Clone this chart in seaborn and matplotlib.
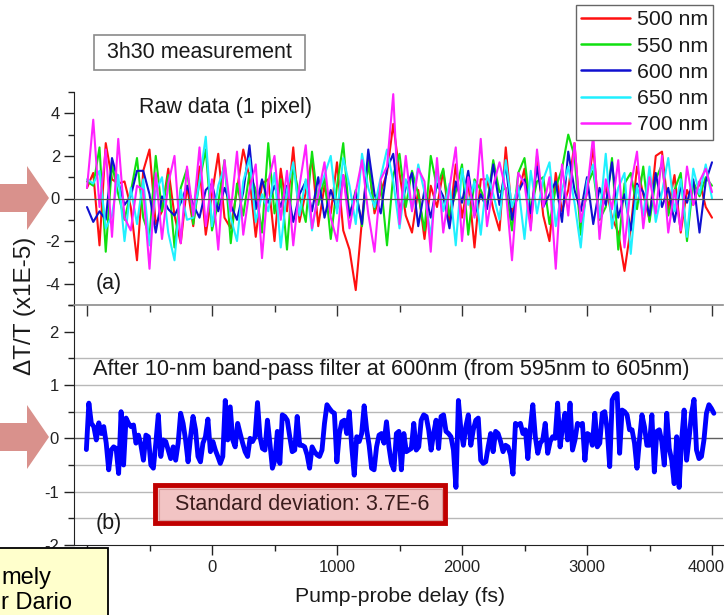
import numpy as np
import pandas as pd
import seaborn as sns
import matplotlib
matplotlib.use("Agg")
import matplotlib.pyplot as plt
from matplotlib.patches import Polygon, Rectangle
from matplotlib.ticker import MultipleLocator
from matplotlib.lines import Line2D
from matplotlib.transforms import ScaledTranslation

# ---------------- data (values in units of 1E-5) ----------------
wavelengths = ["500 nm", "550 nm", "600 nm", "650 nm", "700 nm"]
line_colors = ["#ff1010", "#10e010", "#1010d0", "#20f0ff", "#ff20ff"]

delay_top = np.arange(-1000, 4001, 50)

raw_500 = [0.5, 1.2, -2.2, 2.6, 0.9, 0.7, 0.8, -0.4, -2.9, 1.3,
           2.3, -1.2, -0.6, 1.4, -0.8, -2.1, 0.6, -1.3, 1.5, -1.7,
           0.2, 2.1, -0.9, -1.4, 0.4, 2.3, 1.0, -1.8, 0.7, 0.9,
           -2.0, 1.4, -0.6, 2.4, -1.1, 0.3, 1.9, -1.3, 0.6, -0.7,
           1.7, -1.5, -2.4, -4.3, -1.0, 1.8, -0.7, 0.3, 1.2, 3.5,
           1.2, -0.8, -1.6, 0.4, -1.9, 0.6, -0.4, 1.3, -1.1, 1.6,
           -0.9, 0.8, -2.3, 0.9, 0.9, -0.5, -1.5, 2.4, -0.7, 0.2,
           1.4, -1.3, 2.0, -0.8, -2.0, 1.2, -0.6, 0.4, 2.6, -1.2,
           0.3, 2.4, -1.0, 0.6, -0.9, -1.6, -3.4, -1.4, 1.5, 0.2,
           -1.0, 2.0, 2.2, -0.5, 1.1, -1.6, 0.4, -0.3, 0.8, -0.4,
           -0.9]
raw_550 = [0.8, 0.6, 2.4, -2.5, 1.6, 0.2, -1.0, 0.3, 1.9, -0.9,
           -1.8, 2.0, -0.6, 1.1, -2.3, 0.5, 1.4, -1.2, 0.8, 2.3,
           -1.5, -0.2, 1.8, -2.1, 0.7, -0.8, 1.2, 0.4, -1.6, 2.6,
           -0.7, 0.9, -2.4, 1.5, 0.1, -1.1, 2.2, -0.3, 1.0, -1.9,
           0.6, 2.6, -0.9, 0.4, -1.3, 1.7, -0.5, 0.8, -2.2, 1.1,
           2.1, -0.4, 1.3, 0.2, -1.5, 2.0, 0.5, 1.4, -0.8, 0.3,
           1.6, -1.7, 0.9, 0.4, -0.3, 1.8, 0.3, 0.5, -1.5, 1.2,
           1.9, -0.6, 0.8, 1.0, -1.2, 0.5, 1.4, 3.0, 2.0, -1.7,
           0.6, 1.3, -1.0, -0.4, 1.9, -2.4, 0.7, 1.2, -0.5, 1.5,
           -1.1, 0.9, 1.6, -0.8, 0.4, 1.2, -2.0, 0.8, 0.1, 1.0,
           0.6]
raw_600 = [-0.4, -1.1, -0.6, -1.0, 1.9, 0.8, -0.3, 0.1, 1.3, 1.3,
           0.2, -1.6, 0.1, -0.5, -0.8, -0.2, 0.6, -0.3, -0.9, 0.4,
           0.7, -0.6, 0.5, -0.3, -1.0, 0.3, 2.5, -0.5, 0.9, -0.2,
           0.6, -0.4, 0.6, -1.1, 0.2, 0.8, -0.6, 1.0, -0.9, 0.4,
           -0.5, 1.1, -0.8, 0.3, -1.2, 2.3, 0.2, -0.7, 1.4, 2.1,
           -0.6, 0.5, 1.2, -1.3, 0.4, -0.9, 0.7, 0.1, -1.4, 0.8,
           -0.2, 1.3, -0.8, 0.2, -0.5, 1.6, -0.3, 1.6, -1.0, 0.3,
           0.9, -0.7, 1.5, -0.4, 0.2, 0.8, -1.1, 2.2, 0.4, -0.6,
           1.0, -1.2, 0.5, -0.3, 1.7, -0.9, 0.2, -1.5, 0.7, 0.3,
           -0.8, 1.2, -0.4, 0.5, -1.1, 0.6, -0.2, 0.9, -1.6, 0.8,
           1.7]
raw_650 = [0.9, 0.7, 1.3, -1.4, -0.8, 1.1, -2.0, 0.5, -1.2, 0.9,
           -2.2, 0.3, 1.0, -1.6, -2.9, 0.4, -1.0, -0.9, 0.8, 2.9,
           -1.3, 0.6, 1.5, -0.9, -2.0, 0.8, 1.9, -1.1, 0.2, -0.6,
           1.2, -2.3, 0.4, 1.7, -0.8, 0.9, -1.5, 0.3, 1.1, 2.0,
           -0.7, 1.9, 0.6, -1.2, 2.1, 0.5, -0.4, 1.0, 2.3, 0.8,
           -1.4, 0.9, -0.5, 1.6, 0.3, -1.8, 1.2, -0.6, 0.7, -2.2,
           1.4, -0.3, 0.8, -1.7, 1.1, 0.2, -1.0, 1.8, -0.4, 0.6,
           -1.9, 1.3, -0.7, 0.9, 1.7, -1.3, 0.4, 1.5, -0.2, -2.3,
           0.8, 1.6, -0.9, 2.1, -1.4, 0.5, 1.2, -2.6, 0.6, -0.8,
           1.5, -1.1, 0.3, 1.9, -0.6, 0.9, -1.8, 1.4, 0.2, 1.6,
           0.0]
raw_700 = [0.5, 3.7, -0.4, 2.3, -1.8, 2.8, -0.9, -1.5, 0.6, 0.4,
           -3.3, 1.2, -1.9, 0.7, 2.0, -2.1, 1.5, -0.8, 2.4, -1.3,
           0.9, -2.4, 1.8, -0.6, 2.2, -1.7, 0.4, 1.6, -2.8, 0.8,
           2.0, -1.0, 1.3, -2.2, 0.6, 2.5, -1.4, 0.2, 1.7, -0.9,
           -2.0, 1.1, -1.4, 0.3, 1.8, -0.7, -2.5, 0.9, 1.5, 4.9,
           -1.2, 2.0, -0.6, 1.4, 0.8, -2.5, 1.9, -1.6, 0.5, 2.4,
           -2.0, 1.0, -0.9, 2.8, -1.3, 0.6, 1.7, 0.4, -2.9, 1.2,
           0.7, -1.5, 2.3, -0.4, 1.0, -3.3, 1.6, -0.8, 2.6, -1.1,
           0.3, 3.0, -1.9, 0.9, -0.5, 1.8, -2.3, 0.6, 2.2, -1.4,
           1.0, -0.7, 2.0, -1.6, 0.4, -1.5, 1.5, -0.3, 0.8, 1.4,
           0.3]

filtered_600 = [
    -0.21, 0.66, 0.28, 0.22, -0.03, 0.29, 0.09, 0.22, -0.09, -0.59,
    -0.22, -0.16, -0.19, -0.66, 0.50, -0.50, 0.38, 0.28, 0.22, 0.25,
    -0.09, 0.06, -0.13, -0.41, 0.06, 0.03, -0.50, -0.56, -0.09, 0.44,
    -0.34, -0.03, -0.06, -0.22, -0.38, -0.16, -0.41, -0.09, 0.47, 0.28,
    -0.03, -0.44, 0.03, 0.41, 0.16, -0.34, -0.44, -0.09, 0.03, 0.36,
    -0.25, -0.06, -0.22, -0.34, -0.47, -0.34, 0.71, -0.03, 0.59, -0.03,
    -0.16, 0.28, 0.09, -0.09, -0.25, -0.34, 0.00, -0.06, 0.03, 0.67,
    0.03, -0.19, -0.22, 0.34, -0.09, -0.56, -0.41, 0.13, -0.47, 0.44,
    0.41, 0.34, 0.03, -0.25, -0.22, 0.41, -0.13, -0.13, -0.16, -0.31,
    -0.56, -0.16, -0.25, -0.31, -0.34, -0.22, 0.28, 0.63, 0.56, 0.50,
    0.47, -0.44, 0.09, 0.31, 0.34, 0.09, 0.50, -0.16, -0.69, 0.03,
    -0.06, 0.09, 0.61, 0.16, -0.13, -0.56, -0.59, -0.16, 0.06, 0.09,
    -0.09, 0.31, -0.16, -0.47, -0.59, 0.09,
    0.13, -0.59, 0.09, -0.25, -0.22, -0.19, 0.28, -0.22, -0.16, 0.34,
    0.44, 0.41, 0.16, -0.22, 0.09, 0.34, -0.19, 0.41, 0.44, 0.13,
    0.09, 0.03, -0.22, -0.92, 0.71, 0.16, -0.13, 0.22, 0.44, -0.13,
    0.16, 0.34, 0.38, -0.41, -0.47, -0.44, -0.16, 0.09, -0.25, 0.13,
    0.09, -0.06, -0.25, -0.13, -0.16, -0.31, -0.67, 0.28, 0.25, 0.28,
    0.09, 0.16, -0.38, 0.19, 0.63, 0.03, -0.28, -0.09, -0.03, 0.28,
    -0.28, -0.06, 0.03, 0.00, 0.66,
    -0.16, 0.22, 0.47, -0.03, 0.66, -0.22, -0.03, 0.28, 0.25, 0.28,
    -0.41, 0.09, 0.06, -0.13, 0.47, -0.16, -0.09, 0.47, 0.50, 0.16,
    -0.53, 0.72, 0.81, 0.84, -0.28, 0.53, 0.50, 0.44, 0.16, 0.16,
    -0.09, -0.56, -0.03, 0.44, 0.22, -0.13, -0.13, 0.44, -0.63, 0.13,
    0.16, -0.06, -0.50, 0.47, -0.19, -0.41, -0.85, 0.03, -0.92, -0.03,
    0.53, -0.41, 0.00, 0.47, 0.73, -0.22, -0.38, -0.34, -0.03, 0.47,
    0.63, 0.56, 0.47]
delay_bottom = np.linspace(-1005, 4015, len(filtered_600))

x_tick_values = [-1000, 0, 1000, 2000, 3000, 4000]
x_tick_labels = ["-1000", "0", "1000", "2000", "3000", "4000"]

raw_series = [raw_500, raw_550, raw_600, raw_650, raw_700]
df_top = pd.DataFrame({
    "delay": np.tile(delay_top, len(wavelengths)),
    "signal": np.concatenate([np.array(s, float) for s in raw_series]),
    "wl": np.repeat(wavelengths, len(delay_top)),
})
df_bot = pd.DataFrame({"delay": delay_bottom, "signal": filtered_600})

# ---------------- figure ----------------
sns.set_style("ticks")
plt.rcParams['font.family'] = ['Liberation Sans', 'DejaVu Sans']
plt.rcParams['axes.unicode_minus'] = False

W, H = 726, 615
fig = plt.figure(figsize=(W / 100, H / 100), dpi=100)
fig.patch.set_facecolor("white")

def fxy(px, py):
    return (px / W, 1 - py / H)

L, R = 74, 723
ax1 = fig.add_axes([L / W, 1 - 305 / H, (R - L) / W, (305 - 92) / H])
ax2 = fig.add_axes([L / W, 1 - 545 / H, (R - L) / W, (545 - 305) / H])
for ax in (ax1, ax2):
    ax.patch.set_visible(False)
ax1.set_zorder(3)

xlim = (-1104, 4088)
TXT = "#1a1a1a"

# top panel
ax1.axhline(0, color="#555555", lw=0.9, zorder=5)
sns.lineplot(data=df_top, x="delay", y="signal", hue="wl", hue_order=wavelengths,
             palette=line_colors, lw=1.5, ax=ax1, legend=False, zorder=3)
ax1.set_xlim(*xlim)
ax1.set_ylim(-5, 5)
ax1.set_xlabel("")
ax1.set_ylabel("")
for s in ("top", "right"):
    ax1.spines[s].set_visible(False)
ax1.spines["left"].set_color("#222222")
ax1.spines["bottom"].set_color("#8c8c8c")
ax1.spines["bottom"].set_linewidth(1.2)
ax1.yaxis.set_major_locator(MultipleLocator(2))
ax1.yaxis.set_minor_locator(MultipleLocator(1))
ax1.xaxis.set_major_locator(MultipleLocator(1000))
ax1.xaxis.set_minor_locator(MultipleLocator(500))
ax1.tick_params(axis="y", which="major", length=7, width=1, labelsize=12, colors="#222222", pad=3)
ax1.tick_params(axis="y", which="minor", length=4, width=1, colors="#222222")
ax1.tick_params(axis="x", which="major", length=8, width=1, labelbottom=False, colors="#333333")
ax1.tick_params(axis="x", which="minor", length=5, width=1, colors="#333333")

# bottom panel
for g in [-1.5, -1.0, -0.5, 0.5, 1.0, 1.5]:
    ax2.axhline(g, color="#b8b8b8", lw=1.0, zorder=1)
ax2.axhline(0, color="#606060", lw=1.0, zorder=1)
sns.lineplot(data=df_bot, x="delay", y="signal", color="#0000ff", lw=3.5, ax=ax2, zorder=3)
ax2.set_xlim(*xlim)
ax2.set_ylim(-2, 2.5)
ax2.set_xlabel("")
ax2.set_ylabel("")
for s in ("top", "right"):
    ax2.spines[s].set_visible(False)
ax2.spines["left"].set_color("#222222")
ax2.spines["bottom"].set_color("#222222")
ax2.yaxis.set_major_locator(MultipleLocator(1))
ax2.yaxis.set_minor_locator(MultipleLocator(0.5))
ax2.xaxis.set_minor_locator(MultipleLocator(500))
ax2.tick_params(axis="both", which="major", length=7, width=1, labelsize=12, colors="#222222", pad=4)
ax2.tick_params(axis="both", which="minor", length=4, width=1, colors="#222222")
ax2.set_xticks(x_tick_values)
ax2.set_xticklabels(x_tick_labels)
last = ax2.get_xticklabels()[-1]
last.set_transform(last.get_transform() + ScaledTranslation(-0.06, 0, fig.dpi_scale_trans))

# legend
handles = [Line2D([], [], color=c, lw=1.8) for c in line_colors]
leg = fig.legend(handles, wavelengths, loc="upper right", bbox_to_anchor=fxy(713, 5),
                 fontsize=15.3, frameon=True, fancybox=False, framealpha=1,
                 handlelength=2.3, handletextpad=0.3, borderpad=0.25, labelspacing=0.34,
                 borderaxespad=0)
leg.get_frame().set_edgecolor("#666666")
leg.get_frame().set_linewidth(1.0)
for t in leg.get_texts():
    t.set_color(TXT)

# annotation texts
fig.add_artist(Rectangle(fxy(94, 70), 211 / W, 35 / H, transform=fig.transFigure,
                         fc="white", ec="#8a8a8a", lw=1.2, zorder=4))
fig.text(*fxy(199.5, 52.5), "3h30 measurement", ha="center", va="center",
         fontsize=15.5, color=TXT, zorder=5)
fig.text(*fxy(225, 108), "Raw data (1 pixel)", ha="center", va="center", fontsize=15.5, color=TXT)
fig.text(*fxy(96, 283), "(a)", ha="left", va="center", fontsize=15.5, color=TXT)
fig.text(*fxy(96, 524), "(b)", ha="left", va="center", fontsize=15.5, color=TXT)
fig.text(*fxy(93, 370), "After 10-nm band-pass filter at 600nm (from 595nm to 605nm)",
         ha="left", va="center", fontsize=15.7, color=TXT)

# standard deviation box
fig.add_artist(Rectangle(fxy(155, 523), 290 / W, 38 / H, transform=fig.transFigure,
                         fc="#f2c4c4", ec="#c00000", lw=3.5, zorder=6))
fig.add_artist(Rectangle(fxy(158.5, 519.5), 283 / W, 31 / H, transform=fig.transFigure,
                         fc="none", ec="#d89a9a", lw=0.8, zorder=6))
fig.text(*fxy(302, 504), "Standard deviation: 3.7E-6", ha="center", va="center",
         fontsize=15.5, color="#3a1c1c", zorder=7)

# axis labels
fig.text(*fxy(25, 306), "\u0394T/T (x1E-5)", rotation=90, ha="center", va="center",
         fontsize=17.5, color=TXT)
fig.text(*fxy(400, 597), "Pump-probe delay (fs)", ha="center", va="center",
         fontsize=15.3, color=TXT)

# arrows
arrow_col = "#d9918c"
def arrow(cy):
    pts = [(0, cy - 14), (27, cy - 14), (27, cy - 32), (49, cy), (27, cy + 32),
           (27, cy + 14), (0, cy + 14)]
    fig.add_artist(Polygon([fxy(x, y) for x, y in pts], closed=True,
                           transform=fig.transFigure, fc=arrow_col, ec="none", zorder=8))
arrow(198)
arrow(437)

# yellow note box (partially visible)
fig.add_artist(Rectangle(fxy(-3, 620), 111 / W, 72 / H, transform=fig.transFigure,
                         fc="#ffffcc", ec="black", lw=1.3, zorder=9))
fig.text(*fxy(1, 584), "mely", ha="left", va="baseline", fontsize=17, color="black", zorder=10)
fig.text(*fxy(1, 609), "r Dario", ha="left", va="baseline", fontsize=17, color="black", zorder=10)

fig.savefig("out.png", dpi=100, facecolor="white")
